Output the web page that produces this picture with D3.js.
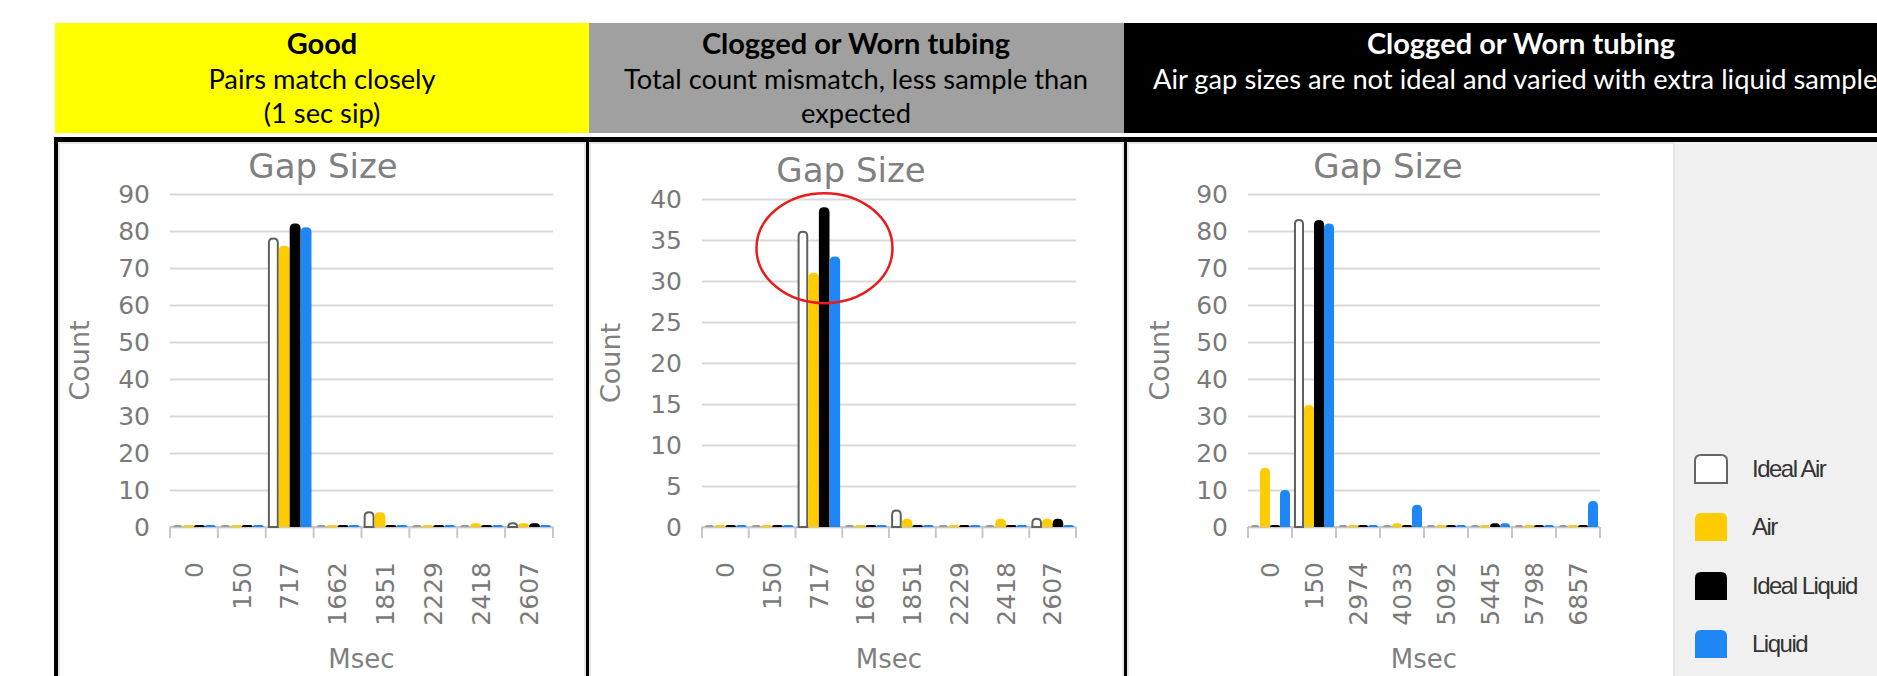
<!DOCTYPE html>
<html><head><meta charset="utf-8">
<script src="https://cdn.jsdelivr.net/npm/d3@7"></script>
<style>html,body{margin:0;padding:0;background:#fff;overflow:hidden}</style>
</head><body>
<svg id="chart" width="1877" height="676"></svg>
<script>
// ---------- data ----------
const seriesNames = ["Ideal Air", "Air", "Ideal Liquid", "Liquid"];
const seriesColors = ["#ffffff", "#ffcc00", "#000000", "#1f87f5"];

const goodCategories = ["0", "150", "717", "1662", "1851", "2229", "2418", "2607"];
const goodIdealAir    = [0, 0, 78, 0, 4, 0, 0, 1];
const goodAir         = [0, 0, 76, 0, 4, 0, 1, 1];
const goodIdealLiquid = [0, 0, 82, 0, 0, 0, 0, 1];
const goodLiquid      = [0, 0, 81, 0, 0, 0, 0, 0];
const goodYTicks = [0, 10, 20, 30, 40, 50, 60, 70, 80, 90];

const mismatchCategories = ["0", "150", "717", "1662", "1851", "2229", "2418", "2607"];
const mismatchIdealAir    = [0, 0, 36, 0, 2, 0, 0, 1];
const mismatchAir         = [0, 0, 31, 0, 1, 0, 1, 1];
const mismatchIdealLiquid = [0, 0, 39, 0, 0, 0, 0, 1];
const mismatchLiquid      = [0, 0, 33, 0, 0, 0, 0, 0];
const mismatchYTicks = [0, 5, 10, 15, 20, 25, 30, 35, 40];

const variedCategories = ["0", "150", "2974", "4033", "5092", "5445", "5798", "6857"];
const variedIdealAir    = [0, 83, 0, 0, 0, 0, 0, 0];
const variedAir         = [16, 33, 0, 1, 0, 0, 0, 0];
const variedIdealLiquid = [0, 83, 0, 0, 0, 1, 0, 0];
const variedLiquid      = [10, 82, 0, 6, 0, 1, 0, 7];
const variedYTicks = [0, 10, 20, 30, 40, 50, 60, 70, 80, 90];

const headerTitles = ["Good", "Clogged or Worn tubing", "Clogged or Worn tubing"];
const headerLines = [
  ["Pairs match closely", "(1 sec sip)"],
  ["Total count mismatch, less sample than", "expected"],
  ["Air gap sizes are not ideal and varied with extra liquid sample"]
];
const chartTitle = "Gap Size";
const yAxisTitle = "Count";
const xAxisTitle = "Msec";

// ---------- layout ----------
const svg = d3.select("#chart");
const headerBoxes = [
  {x: 55, w: 534, fill: "#ffff00", color: "#000", cx: 322},
  {x: 589, w: 535, fill: "#a0a0a0", color: "#000", cx: 856},
  {x: 1124, w: 753, fill: "#000000", color: "#fff", cx: 1521}
];
const panelLayouts = [
  {xL: 170, xR: 553, yTop: 194, yBot: 527, titleX: 323, titleY: 178, countX: 80},
  {xL: 702, xR: 1076, yTop: 199, yBot: 527, titleX: 851, titleY: 182, countX: 611},
  {xL: 1248, xR: 1600, yTop: 194, yBot: 527, titleX: 1388, titleY: 178, countX: 1160}
];
const panelsData = [
  {cats: goodCategories, series: [goodIdealAir, goodAir, goodIdealLiquid, goodLiquid], ticks: goodYTicks},
  {cats: mismatchCategories, series: [mismatchIdealAir, mismatchAir, mismatchIdealLiquid, mismatchLiquid], ticks: mismatchYTicks},
  {cats: variedCategories, series: [variedIdealAir, variedAir, variedIdealLiquid, variedLiquid], ticks: variedYTicks}
];

// headers
headerBoxes.forEach((b, i) => {
  svg.append("rect").attr("x", b.x).attr("y", 23).attr("width", b.w).attr("height", 110).attr("fill", b.fill);
  svg.append("text").attr("x", b.cx).attr("y", 54).attr("text-anchor", "middle")
    .attr("font-family", "Lato, 'Open Sans', sans-serif").attr("font-weight", "bold")
    .attr("font-size", 29).attr("fill", b.color).text(headerTitles[i]);
  headerLines[i].forEach((t, j) => {
    svg.append("text").attr("x", i === 2 ? 1153 : b.cx).attr("y", 89 + j * 34)
      .attr("text-anchor", i === 2 ? "start" : "middle")
      .attr("font-family", "Lato, 'Open Sans', sans-serif")
      .attr("font-size", 27.3).attr("fill", b.color).text(t);
  });
});

// panel backgrounds and borders
svg.append("rect").attr("x", 1675).attr("y", 142).attr("width", 202).attr("height", 534).attr("fill", "#f0f0f0");
[[58, 528], [589, 535], [1127, 548]].forEach(([x, w]) => {
  svg.append("rect").attr("x", x + 1).attr("y", 143).attr("width", w - 2).attr("height", 540)
    .attr("fill", "none").attr("stroke", "#e6e6e6").attr("stroke-width", 2);
});
svg.append("rect").attr("x", 54).attr("y", 137).attr("width", 1823).attr("height", 5).attr("fill", "#000");
svg.append("rect").attr("x", 54).attr("y", 137).attr("width", 4).attr("height", 539).attr("fill", "#000");
svg.append("rect").attr("x", 586).attr("y", 137).attr("width", 3).attr("height", 539).attr("fill", "#000");
svg.append("rect").attr("x", 1124).attr("y", 137).attr("width", 3).attr("height", 539).attr("fill", "#000");

function barPath(x, y, w, h, r) {
  r = Math.min(r, w / 2, h);
  return `M${x},${y + h}V${y + r}Q${x},${y} ${x + r},${y}H${x + w - r}Q${x + w},${y} ${x + w},${y + r}V${y + h}Z`;
}

const chartFont = "'DejaVu Sans', Verdana, sans-serif";
const scales = [];

panelsData.forEach((pd, pi) => {
  const L = panelLayouts[pi];
  const g = svg.append("g");
  const yMax = pd.ticks[pd.ticks.length - 1];
  const y = d3.scaleLinear().domain([0, yMax]).range([L.yBot, L.yTop]);
  const x0 = d3.scaleBand().domain(pd.cats).range([L.xL, L.xR]).padding(0);
  const step = x0.step();
  const x1 = d3.scaleBand().domain(seriesNames).range([step * 0.045, step * 0.955]).padding(0);
  scales.push({x0, y, x1});

  // y axis with gridlines
  const yAxis = d3.axisLeft(y).tickValues(pd.ticks).tickSize(-(L.xR - L.xL)).tickPadding(20);
  const ya = g.append("g").attr("transform", `translate(${L.xL},0)`).call(yAxis);
  ya.select(".domain").remove();
  ya.selectAll("line").attr("stroke", "#d9d9d9").attr("stroke-width", 2);
  ya.selectAll("text").attr("font-family", chartFont).attr("font-size", 25).attr("fill", "#7a7a7a");

  // x axis baseline
  g.append("line").attr("x1", L.xL).attr("x2", L.xR).attr("y1", y(0)).attr("y2", y(0))
    .attr("stroke", "#c8c8c8").attr("stroke-width", 2);
  // tick marks at band boundaries
  const bounds = pd.cats.map(c => x0(c)).concat([x0(pd.cats[pd.cats.length - 1]) + step]);
  g.selectAll(".xt").data(bounds).join("line")
    .attr("x1", d => d).attr("x2", d => d).attr("y1", y(0)).attr("y2", y(0) + 11)
    .attr("stroke", "#c8c8c8").attr("stroke-width", 2);
  // x labels
  const xAxis = d3.axisBottom(x0).tickSize(0);
  const xa = g.append("g").attr("transform", `translate(0,${y(0)})`).call(xAxis);
  xa.select(".domain").remove();
  xa.selectAll("text").attr("transform", "rotate(-90)").attr("x", -35).attr("y", 0).attr("dy", "0.35em")
    .attr("text-anchor", "end").attr("font-family", chartFont).attr("font-size", 25).attr("fill", "#7a7a7a");

  // bars
  pd.series.forEach((vals, si) => {
    g.selectAll(".bar" + si).data(vals.map((v, k) => ({v, c: pd.cats[k]}))).join("path")
      .attr("d", d => {
        const bx = x0(d.c) + x1(seriesNames[si]);
        const bw = x1.bandwidth();
        const h = d.v > 0 ? y(0) - y(d.v) : 2;
        return barPath(bx + (si === 0 ? 1 : 0), y(0) - h, bw - (si === 0 ? 2 : 0), h, 5);
      })
      .attr("fill", d => (si === 0 && d.v === 0) ? "#9a9a9a" : seriesColors[si])
      .attr("stroke", d => (si === 0 && d.v > 0) ? "#606060" : "none")
      .attr("stroke-width", 2);
  });

  // titles
  g.append("text").attr("x", L.titleX).attr("y", L.titleY).attr("text-anchor", "middle")
    .attr("font-family", chartFont).attr("font-size", 34).attr("fill", "#808080").text(chartTitle);
  g.append("text").attr("transform", `translate(${L.countX},${(L.yTop + L.yBot) / 2}) rotate(-90)`)
    .attr("text-anchor", "middle").attr("dy", "0.35em")
    .attr("font-family", chartFont).attr("font-size", 27).attr("fill", "#808080").text(yAxisTitle);
  g.append("text").attr("x", (L.xL + L.xR) / 2).attr("y", 668).attr("text-anchor", "middle")
    .attr("font-family", chartFont).attr("font-size", 26).attr("fill", "#808080").text(xAxisTitle);
});

// red annotation ellipse on the mismatch panel
{
  const s = scales[1];
  svg.append("ellipse").attr("cx", s.x0("717") + s.x0.step() * 0.62).attr("cy", s.y(34))
    .attr("rx", 68).attr("ry", 55).attr("fill", "none").attr("stroke", "#e81c1c").attr("stroke-width", 2.5);
}

// legend
const legendY = [469, 527, 586, 644];
seriesNames.forEach((n, i) => {
  svg.append("path")
    .attr("d", barPath(1695, legendY[i] - 14, 32, 28, 6))
    .attr("fill", seriesColors[i])
    .attr("stroke", i === 0 ? "#666" : "none").attr("stroke-width", 2);
  svg.append("text").attr("x", 1752).attr("y", legendY[i]).attr("dy", "0.35em")
    .attr("font-family", "'Liberation Sans', Arial, sans-serif").attr("font-size", 24)
    .attr("letter-spacing", "-1.5px").attr("fill", "#333").text(n);
});
</script>
</body></html>
